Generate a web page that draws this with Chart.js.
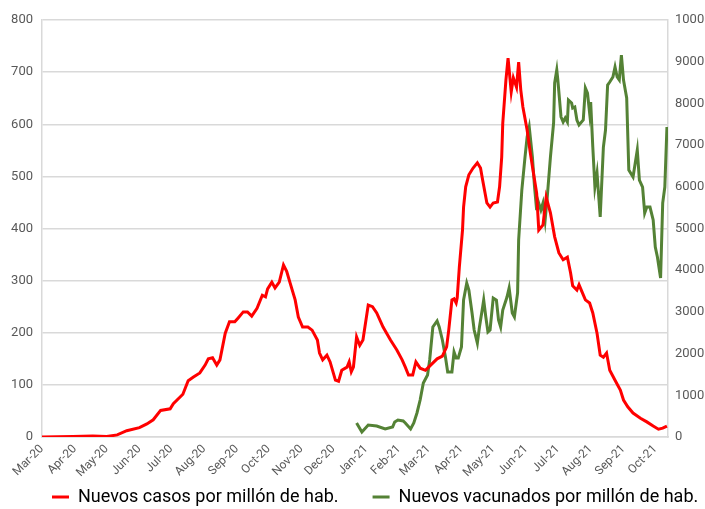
<!DOCTYPE html>
<html>
<head>
<meta charset="utf-8">
<script src="https://cdn.jsdelivr.net/npm/chart.js@4"></script>
<style>
  html, body { margin: 0; padding: 0; background: #fff; }
  #wrap { width: 705px; height: 509px; }
</style>
</head>
<body>
<div id="wrap"><canvas id="myLineChart" width="705" height="509"></canvas></div>
<script>
// days counted from 1 Mar 2020
const monthLabels = ["Mar-20", "Apr-20", "May-20", "Jun-20", "Jul-20", "Aug-20", "Sep-20", "Oct-20", "Nov-20", "Dec-20",
  "Jan-21", "Feb-21", "Mar-21", "Apr-21", "May-21", "Jun-21", "Jul-21", "Aug-21", "Sep-21", "Oct-21"];

const casesDay = [0, 29, 48, 61, 71, 80, 92, 99, 105, 112, 121, 124, 133, 138, 143, 149, 154, 157, 161, 165,
  168, 173, 177, 182, 185, 190, 194, 198, 203, 208, 211, 213, 217, 220, 224, 228, 231, 234, 239, 242,
  246, 251, 255, 260, 262, 265, 269, 272, 277, 280, 283, 288, 290, 292, 294, 297, 300, 303, 308, 312,
  316, 322, 329, 335, 340, 343, 346, 350, 353, 357, 362, 365, 373, 378, 382, 384, 387, 389, 391, 392,
  394, 397, 398, 400, 403, 407, 411, 414, 416, 420, 423, 426, 430, 432, 434, 435, 438, 440, 443, 445,
  448, 450, 452, 454, 458, 461, 464, 467, 469, 473, 476, 480, 484, 488, 492, 496, 499, 501, 505, 507,
  513, 517, 520, 524, 527, 530, 533, 536, 541, 546, 549, 553, 558, 565, 571, 577, 582, 586, 590];
const casesValue = [0, 1, 2, 1, 4, 12, 18, 25, 33, 51, 54, 64, 82, 108, 115, 123, 138, 150, 152, 138,
  148, 199, 221, 221, 228, 240, 240, 232, 247, 272, 269, 284, 297, 286, 297, 330, 318, 297, 263, 230,
  211, 211, 205, 186, 161, 148, 157, 144, 109, 107, 128, 134, 144, 125, 134, 192, 176, 186, 253, 250,
  238, 211, 186, 167, 148, 134, 119, 119, 144, 132, 128, 134, 150, 155, 173, 205, 263, 265, 257, 267,
  326, 397, 441, 480, 503, 516, 526, 516, 493, 449, 441, 449, 451, 480, 537, 602, 685, 727, 662, 689,
  671, 719, 666, 633, 589, 545, 506, 468, 397, 407, 460, 430, 384, 353, 340, 345, 315, 290, 282, 292,
  263, 257, 238, 199, 157, 153, 161, 128, 109, 90, 71, 58, 46, 36, 29, 21, 15, 17, 21];

const vacDay = [297, 302, 308, 316, 324, 331, 333, 336, 341, 343, 348, 351, 354, 357, 360, 364, 366, 369, 373, 375,
  378, 381, 383, 387, 389, 391, 393, 396, 398, 401, 403, 406, 408, 411, 413, 416, 417, 419, 421, 423,
  426, 429, 431, 433, 435, 439, 441, 444, 446, 449, 450, 453, 456, 458, 460, 463, 465, 467, 468, 471,
  473, 475, 477, 480, 483, 484, 486, 487, 490, 492, 494, 496, 497, 500, 501, 503, 505, 507, 511, 513,
  515, 517, 518, 520, 522, 524, 527, 530, 532, 534, 536, 539, 541, 543, 545, 547, 549, 551, 552, 554,
  558, 562, 564, 567, 569, 571, 574, 577, 579, 581, 584, 586, 588, 590];
const vacValue = [336, 120, 288, 264, 192, 240, 360, 408, 384, 336, 192, 336, 576, 887, 1295, 1487, 1847, 2638, 2782, 2638,
  2326, 1900, 1559, 1559, 2038, 1894, 1894, 2158, 3285, 3693, 3525, 2974, 2566, 2254, 2638, 3117, 3285, 2878, 2518, 2566,
  3333, 3285, 2806, 2638, 3045, 3357, 3573, 2974, 2878, 3453, 4724, 5923, 6714, 7194, 7434, 6714, 5995, 5443, 5683, 5443,
  5611, 5204, 5755, 6714, 7530, 8489, 8801, 8561, 7674, 7554, 7650, 7554, 8081, 8009, 7890, 7914, 7602, 7482, 7602, 8369,
  8249, 7770, 8033, 6954, 5995, 6331, 5276, 6954, 7362, 8441, 8513, 8633, 8873, 8633, 8561, 9160, 8561, 8273, 8129, 6402,
  6235, 6882, 6163, 5995, 5371, 5515, 5515, 5204, 4556, 4316, 3813, 5611, 5995, 7434];

const casesLabel = "Nuevos casos por millón de hab.";
const vacLabel = "Nuevos vacunados por millón de hab.";

const RED = "#ff0000";
const GREEN = "#548235";
const GRID = "#d9d9d9";
const TEXT = "#595959";

function toPoints(days, values) {
  return days.map((d, i) => ({ x: d, y: values[i] }));
}

// tick positions at the first day of each month
const startDate = Date.UTC(2020, 2, 1);
const monthTicks = monthLabels.map((l, i) => (Date.UTC(2020, 2 + i, 1) - startDate) / 86400000);

// legend drawn by hand so the spacing matches the original
const bottomLegend = {
  id: "bottomLegend",
  afterDraw(chart) {
    const c = chart.ctx;
    const y = chart.height - 12;
    let x = 52;
    c.save();
    c.font = "18px Roboto";
    c.textBaseline = "middle";
    c.textAlign = "left";
    chart.data.datasets.forEach((ds) => {
      c.fillStyle = ds.borderColor;
      c.fillRect(x, y - 1.5, 17, 3);
      c.fillStyle = "#000";
      c.fillText(ds.label, x + 26, y);
      x += 26 + c.measureText(ds.label).width + 34;
    });
    c.restore();
  },
};

const data = {
  datasets: [
    {
      label: casesLabel,
      data: toPoints(casesDay, casesValue),
      borderColor: RED,
      borderWidth: 3,
      pointRadius: 0,
      tension: 0,
      yAxisID: "y",
    },
    {
      label: vacLabel,
      data: toPoints(vacDay, vacValue),
      borderColor: GREEN,
      borderWidth: 3,
      pointRadius: 0,
      tension: 0,
      yAxisID: "y1",
    },
  ],
};

const options = {
  responsive: false,
  animation: false,
  layout: { padding: { top: 20, left: 0, right: 0, bottom: 31 } },
  plugins: {
    tooltip: { enabled: false },
    legend: { display: false },
  },
  scales: {
    x: {
      type: "linear",
      min: 0,
      max: 591,
      afterBuildTicks: (scale) => {
        scale.ticks = monthTicks.map((v) => ({ value: v }));
      },
      afterFit: (scale) => { scale.height = 41; },
      ticks: {
        autoSkip: false,
        maxRotation: 45,
        minRotation: 45,
        padding: -3,
        color: TEXT,
        font: { family: "Roboto", size: 12 },
        callback: (v) => monthLabels[monthTicks.indexOf(v)],
      },
      grid: { display: false },
      border: { display: true, color: GRID, width: 1.5 },
    },
    y: {
      position: "left",
      min: 0,
      max: 800,
      afterFit: (scale) => { scale.width = 42; },
      ticks: { stepSize: 100, padding: 9, color: TEXT, font: { family: "Roboto", size: 13 } },
      grid: { color: GRID, lineWidth: 1.5, drawTicks: false },
      border: { display: true, color: GRID, width: 1.5 },
    },
    y1: {
      position: "right",
      min: 0,
      max: 10000,
      afterFit: (scale) => { scale.width = 37; },
      ticks: {
        stepSize: 1000,
        padding: 7,
        color: TEXT,
        font: { family: "Roboto", size: 13 },
        callback: (v) => String(v),
      },
      grid: { display: false, drawTicks: false },
      border: { display: true, color: GRID, width: 1.5 },
    },
  },
};

const ctx = document.getElementById("myLineChart").getContext("2d");
new Chart(ctx, { type: "line", data, options, plugins: [bottomLegend] });
</script>
</body>
</html>
